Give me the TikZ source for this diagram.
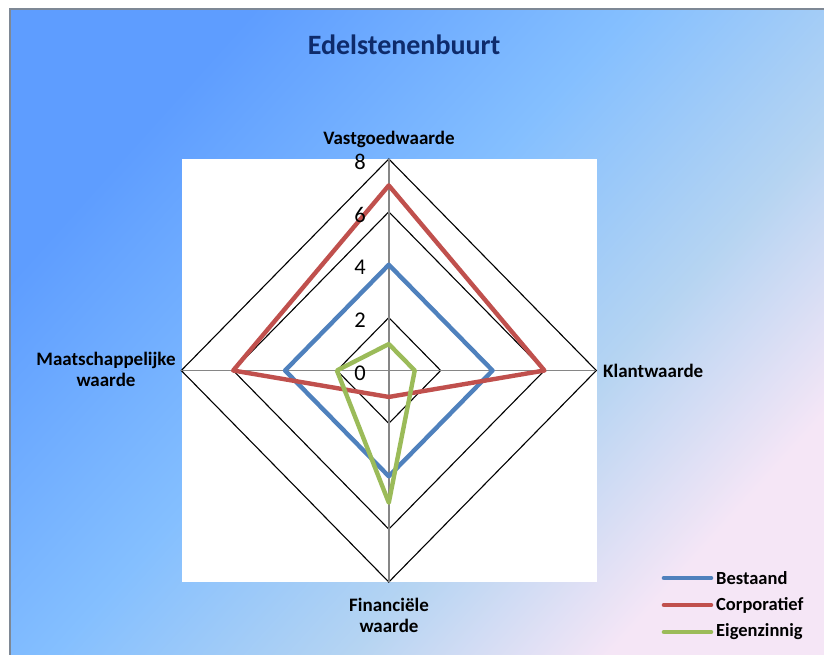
\documentclass[tikz,border=0pt]{standalone}
\usepackage{fontspec}
\setmainfont{Carlito}
\definecolor{bgA}{HTML}{5E9DFF}
\definecolor{bgB}{HTML}{84BFFF}
\definecolor{bgC}{HTML}{B5D4F2}
\definecolor{bgD}{HTML}{F5E6F6}
\definecolor{titleblue}{HTML}{0E2B6B}
\definecolor{frame}{HTML}{7E8895}
\definecolor{axisgray}{HTML}{868686}
\definecolor{serblue}{HTML}{4F81BD}
\definecolor{serred}{HTML}{C0504D}
\definecolor{sergreen}{HTML}{9BBB59}
\pgfdeclarehorizontalshading{chartbg}{100bp}{color(0bp)=(bgA); color(27bp)=(bgA); color(46bp)=(bgB); color(61bp)=(bgC); color(74bp)=(bgD); color(100bp)=(bgD)}
\begin{document}
\begin{tikzpicture}[x=1pt,y=-1pt,
  gridline/.style={black, line width=1.1pt},
  axisline/.style={axisgray, line width=1.5pt},
  series/.style={line width=4.4pt, line join=round, draw=#1},
  keyline/.style={line width=4.6pt, line cap=round, draw=#1},
  axislabel/.style={font=\fontsize{19}{21}\selectfont\bfseries, align=center, inner sep=0pt},
  ticklabel/.style={font=\fontsize{22.5}{24}\selectfont, anchor=east, inner sep=0pt},
  keylabel/.style={font=\fontsize{18.5}{20}\selectfont\bfseries, anchor=west, inner sep=0pt}]
\useasboundingbox (0,0) rectangle (824,654);
\clip (0,0) rectangle (824,654);
% chart area with gradient fill and frame
\shade[shading=chartbg, shading angle=-42] (9,8) rectangle (830,660);
\draw[frame, line width=2pt] (830,9) -- (10,9) -- (10,660);
% plot area
\fill[white] (182,159) rectangle (597,582);
% radar geometry: centre and unit lengths
\def\cx{388.8}
\def\cy{370.5}
\def\ux{25.94}
\def\uy{26.44}
\coordinate (ctr) at (\cx,\cy);
\coordinate (top) at (\cx,{\cy-8*\uy});
\coordinate (rgt) at ({\cx+8*\ux},\cy);
\coordinate (bot) at (\cx,{\cy+8*\uy});
\coordinate (lft) at ({\cx-8*\ux},\cy);
% grid diamonds
\foreach \k in {2,4,6,8}
  \draw[gridline] (\cx,{\cy-\k*\uy}) -- ({\cx+\k*\ux},\cy) -- (\cx,{\cy+\k*\uy}) -- ({\cx-\k*\ux},\cy) -- cycle;
% spokes
\draw[axisline] (top) -- (bot);
\draw[axisline] (lft) -- (rgt);
% series: top, right, bottom, left
\draw[series=serblue] (\cx,{\cy-4*\uy}) -- ({\cx+4*\ux},\cy) -- (\cx,{\cy+4*\uy}) -- ({\cx-4*\ux},\cy) -- cycle;
\draw[series=serred] (\cx,{\cy-7*\uy}) -- ({\cx+6*\ux},\cy) -- (\cx,{\cy+1*\uy}) -- ({\cx-6*\ux},\cy) -- cycle;
\draw[series=sergreen] (\cx,{\cy-1*\uy}) -- ({\cx+1*\ux},\cy) -- (\cx,{\cy+5*\uy}) -- ({\cx-2*\ux},\cy) -- cycle;
% tick labels
\foreach \k in {0,2,4,6,8}
  \node[ticklabel] (tick\k) at (366,{\cy-\k*\uy+3}) {\k};
% title
\node[font=\fontsize{28}{30}\selectfont\bfseries, text=titleblue, inner sep=0pt] (title) at (404,45) {Edelstenenbuurt};
% category labels
\node[axislabel] (lbltop) at (389,139) {Vastgoedwaarde};
\node[axislabel, anchor=west] (lblrgt) at (603,371) {Klantwaarde};
\node[axislabel] (lblbot) at (389,615) {Financiële\\waarde};
\node[axislabel] (lbllft) at (106,369) {Maatschappelijke\\waarde};
% legend
\coordinate (k1a) at (664,578); \coordinate (k1b) at (711,578);
\coordinate (k2a) at (664,605); \coordinate (k2b) at (711,605);
\coordinate (k3a) at (664,632); \coordinate (k3b) at (711,632);
\draw[keyline=serblue] (k1a) -- (k1b);
\draw[keyline=serred] (k2a) -- (k2b);
\draw[keyline=sergreen] (k3a) -- (k3b);
\node[keylabel] (key1) at (716,578) {Bestaand};
\node[keylabel] (key2) at (716,605) {Corporatief};
\node[keylabel] (key3) at (716,632) {Eigenzinnig};
\end{tikzpicture}
\end{document}
